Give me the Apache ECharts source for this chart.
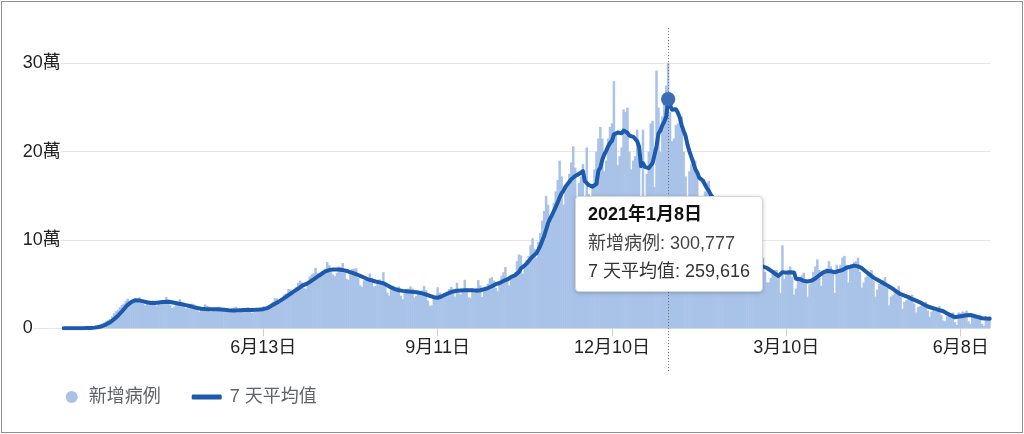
<!DOCTYPE html>
<html>
<head>
<meta charset="utf-8">
<script src="https://cdn.jsdelivr.net/npm/echarts@6/dist/echarts.min.js"></script>
<style>
html,body{margin:0;padding:0;background:#fff;}
#chart{position:absolute;left:0;top:0;width:1024px;height:434px;}
#frame{position:absolute;left:1px;top:1px;width:1020px;height:430px;border:1px solid #8f8f8f;pointer-events:none;}
</style>
</head>
<body>
<div id="chart"></div>
<div id="frame"></div>
<script>
// ---- data (values in thousands of cases) ----
const axisStart = '2020-02-16';
const dataStart = '2020-03-02';
const dataEnd = '2021-06-23';
const tickDates = ['2020-06-13', '2020-09-11', '2020-12-10', '2021-03-10', '2021-06-08'];
const highlightDate = '2021-01-08';
const yTicks = [0, 100, 200, 300];

const dailyCases = [
// 2020-03
0.01,0.02,0.02,0.03,0.04,0.06,0.08, 0.1,0.12,0.2,0.3,0.4,0.5,0.6, 0.8,1.0,1.5,2.2,3.0,4.2,5.5, 6.8,8.4,9.6,10.8,13.5,17.0,19.5, 21.0,24.0,
// 2020-04
26.5,28.0,31.0,33.5,27.5, 29.0,31.0,32.0,33.5,35.0,31.5,28.0, 26.0,27.5,29.0,30.5,31.5,30.0,25.5, 28.0,27.0,30.5,32.0,35.5,33.0,26.5, 23.0,24.5,27.0,29.5,
// 2020-05
33.0,29.0,25.5, 22.5,23.5,24.5,28.0,27.5,25.5,20.5, 18.5,22.0,21.0,27.0,25.5,24.5,18.5, 22.5,21.0,21.5,24.5,23.5,22.0,19.5, 18.5,18.5,19.5,22.5,23.5,24.5,20.0,
// 2020-06
20.5,19.5,20.5,21.5,24.0,22.0,17.5, 18.0,19.0,21.0,23.0,23.5,25.0,20.5, 21.0,25.0,28.0,30.0,34.0,34.0,28.0, 30.5,34.5,38.5,39.5,44.5,44.0,39.0, 39.5,46.5,
// 2020-07
51.5,54.0,52.0,45.5,45.0, 49.0,58.5,61.0,62.5,68.5,63.0,59.0, 60.0,63.5,67.5,75.0,71.5,63.5,61.0, 59.0,63.0,70.0,69.0,74.0,64.5,56.0, 55.0,63.0,67.0,67.5,68.0,
// 2020-08
57.0,48.5, 47.0,54.5,55.5,56.5,62.0,57.5,47.5, 48.0,53.0,55.5,52.0,63.5,51.5,40.5, 37.0,44.5,47.0,44.0,46.5,47.5,37.0, 33.0,40.0,44.5,45.0,47.5,45.0,35.0, 36.5,
// 2020-09
42.0,38.5,43.0,48.0,43.0,31.5, 25.5,26.0,33.5,36.5,46.5,40.5,34.0, 35.0,37.5,40.0,44.5,47.0,40.5,36.0, 51.5,39.5,38.5,44.0,55.0,45.0,35.0, 34.5,43.5,40.0,
// 2020-10
45.5,54.5,48.5,35.5, 42.0,43.0,50.5,56.5,58.0,54.0,46.0, 42.0,52.0,59.5,63.5,69.5,54.5,48.5, 60.0,61.0,63.5,76.0,83.5,82.5,62.0, 70.0,77.0,82.0,94.0,102.0,90.0,
// 2020-11
80, 98,108,122,133,150,140,118, 125,142,155,168,190,172,140, 155,162,175,188,206,182,146, 165,172,186,110,205,152,138, 160,
// 2020-12
180,200,215,228,215,178, 190,215,228,232,280,222,185, 195,205,248,245,250,200,180, 190,195,225,200,95,225,150, 175,200,232,235,
// 2021-01
160,292,250, 200,240,260,275,300.777,245,212, 215,230,232,236,240,200,172, 145,178,186,192,190,172,132, 150,148,155,165,167,142,112,
// 2021-02
122,118,120,123,134,104,90, 88,95,95,104,103,88,64, 54,62,68,76,80,72,56, 58,72,75,77,80,64,52,
// 2021-03
52,57,64,66,66,58,40, 94,56,60,66,70,58,38, 45,54,58,60,63,55,36, 50,56,64,70,78,66,48, 62,62,68,
// 2021-04
76,70,66,40, 72,62,72,80,82,72,52, 68,68,75,76,80,64,46, 52,58,62,64,66,54,36, 44,50,53,55,58,
// 2021-05
46,26, 36,38,42,44,48,36,22, 30,32,36,37,38,28,18, 24,25,28,28,30,20,13, 19,21,23,23,25,15,9, 8,
// 2021-06
14,17,15,18,7,4, 18,17,19,18,20,8,5, 14,13,15,13,15,5,3, 14,12,14
];

const avg7 = [
// 2020-03
0.01,0.01,0.02,0.02,0.03,0.04,0.04, 0.06,0.08,0.1,0.14,0.2,0.26,0.33, 0.44,0.57,0.76,1.0,1.4,1.9,2.6, 3.4,4.5,5.6,6.9,8.4,10.3,12.3, 14.2,16.4,
// 2020-04
19.0,21.6,24.2,26.5,28.3, 30.0,31.0,31.8,32.0,31.6,31.0,30.5, 30.0,29.5,29.0,28.7,28.5,28.6,28.8, 29.2,29.6,29.9,30.0,30.1,30.0,29.7, 29.3,28.9,28.5,28.0,
// 2020-05
27.6,27.2,26.7, 26.2,25.7,25.2,24.6,24.0,23.5,23.0, 22.6,22.2,22.0,21.9,21.8,21.7,21.6, 21.6,21.5,21.5,21.4,21.3,21.1,20.9, 20.7,20.5,20.4,20.2,20.2,20.3,20.4,
// 2020-06
20.5,20.6,20.6,20.7,20.7,20.7,20.8, 20.9,21.0,21.1,21.3,21.5,21.7,22.0, 22.8,24.0,25.3,26.6,27.8,29.0,30.2, 31.6,33.0,34.5,36.0,37.5,39.0,40.5, 42.0,43.5,
// 2020-07
45.0,46.5,48.0,49.0,50.0, 51.0,52.5,54.0,55.5,57.0,58.5,60.0, 61.5,63.0,64.5,65.5,66.0,66.3,66.5, 66.6,66.6,66.5,66.3,66.0,65.6,65.0, 64.3,63.5,62.7,62.0,61.2,
// 2020-08
60.3,59.4, 58.5,57.5,56.5,55.5,54.8,54.2,53.6, 53.0,52.5,52.0,51.5,51.0,50.0,48.8, 47.5,46.3,45.2,44.3,43.5,43.0,42.7, 42.4,42.1,41.9,41.7,41.5,41.3,41.1, 40.8,
// 2020-09
40.5,40.1,39.6,39.0,38.3,37.6, 36.8,35.9,35.2,34.8,34.6,35.0,36.0, 37.2,38.3,39.3,40.2,41.0,41.7,42.2, 42.5,42.7,42.8,42.9,43.0,43.1,43.2, 43.3,43.0,42.8,
// 2020-10
42.6,42.6,43.1,43.1, 44.2,44.1,45.6,47.2,47.7,48.5,50.0, 50.0,51.3,52.6,53.6,55.2,55.3,55.6, 58.2,59.5,60.1,61.9,63.9,67.9,69.8, 71.2,73.5,76.1,78.7,81.4,82.4,
// 2020-11
85.0, 89.0,93.4,99.1,104.7,111.6,118.7,124.1, 128.0,132.9,137.6,142.6,148.3,152.9,156.0, 160.3,163.1,166.0,168.9,171.1,172.6,173.4, 174.9,176.3,177.9,166.7,166.6,162.3,161.1, 160.4,
// 2020-12
161.6,163.6,178.6,181.9,190.9,196.6, 200.9,205.9,209.9,212.3,219.7,220.7,221.7, 222.4,221.0,223.9,225.7,221.4,218.3,217.6, 216.9,215.4,212.0,205.7,183.6,187.0,182.9, 180.7,181.4,182.4,187.4,
// 2021-01
196.7,206.3,220.6, 224.1,229.9,233.9,239.6,259.616,252.9,247.5, 249.6,248.2,244.2,238.6,229.9,223.5,217.8, 207.8,200.4,193.8,187.5,180.4,176.4,170.7, 171.4,167.1,162.7,158.9,155.6,151.3,148.4,
// 2021-02
144.4,140.1,135.1,129.1,124.4,119.0,115.9, 111.0,107.7,104.1,101.4,97.0,94.7,91.0, 86.1,81.4,77.6,73.6,70.3,68.0,66.9, 67.4,68.9,69.9,70.0,70.0,68.9,68.3,
// 2021-03
67.4,65.3,63.7,62.1,60.1,59.3,57.6, 63.6,63.4,62.9,62.9,63.4,63.4,63.1, 56.1,55.9,55.6,54.7,53.7,53.3,53.0, 53.7,54.0,54.9,56.3,58.4,60.0,61.7, 63.4,64.3,64.9,
// 2021-04
65.7,64.6,64.6,63.4, 64.9,64.9,65.4,66.0,67.7,68.6,70.3, 69.7,70.6,71.0,70.4,70.1,69.0,68.1, 65.9,64.4,62.6,60.9,58.9,57.4,56.0, 54.9,53.7,52.4,51.1,50.0,
// 2021-05
48.9,47.4, 46.3,44.6,43.0,41.4,40.0,38.6,38.0, 37.1,36.3,35.4,34.4,33.0,31.9,31.3, 30.4,29.4,28.3,27.0,25.9,24.7,24.0, 23.3,22.7,22.0,21.3,20.6,19.9,19.3, 17.7,
// 2021-06
16.7,15.9,14.7,13.7,12.6,11.9, 13.3,13.7,14.0,14.4,14.7,14.9,15.0, 14.4,13.9,13.3,12.6,11.9,11.4,11.1, 11.1,11.0,10.9
];

// ---- build ----
const FONT = '"Liberation Sans", Arial, "Noto Sans CJK TC", "Noto Sans CJK SC", sans-serif';
const BAR = '#a9c3e8';
const LINE = '#1d5aab';
const DOT = '#3b6cb5';

function ymd(t) {
  const d = new Date(t);
  return d.getUTCFullYear() + '-' + String(d.getUTCMonth() + 1).padStart(2, '0') + '-' + String(d.getUTCDate()).padStart(2, '0');
}
const dates = [];
for (let t = Date.parse(axisStart + 'T00:00:00Z'); t <= Date.parse(dataEnd + 'T00:00:00Z'); t += 86400000) dates.push(ymd(t));
const offset = dates.indexOf(dataStart);
if (dates.length - offset !== dailyCases.length || dailyCases.length !== avg7.length) {
  console.error('length mismatch', dates.length - offset, dailyCases.length, avg7.length);
}
const hlIndex = dates.indexOf(highlightDate);
const tickSet = new Set(tickDates);

const barData = dates.map((d, i) => i < offset ? '-' : dailyCases[i - offset]);
const lineData = dates.map((d, i) => {
  if (i < offset) return '-';
  const v = avg7[i - offset];
  return i === hlIndex ? { value: v, symbol: 'circle', symbolSize: 13, itemStyle: { color: DOT } } : v;
});

function mdLabel(v) { const p = v.split('-'); return (+p[1]) + '月' + (+p[2]) + '日'; }
function fullLabel(v) { const p = v.split('-'); return p[0] + '年' + (+p[1]) + '月' + (+p[2]) + '日'; }
function fmtNum(v) { return Math.round(v * 1000).toLocaleString('en-US'); }

const chart = echarts.init(document.getElementById('chart'), null, { renderer: 'canvas' });
chart.setOption({
  animation: false,
  grid: { left: 33.7, right: 33.3, top: 28.1, bottom: 105.7, containLabel: false, outerBoundsMode: 'none' },
  xAxis: {
    type: 'category',
    data: dates,
    boundaryGap: true,
    axisLine: { show: false },
    axisTick: { show: true, alignWithLabel: true, length: 8, interval: (i, v) => tickSet.has(v), lineStyle: { color: '#cfcfcf' } },
    axisLabel: { interval: (i, v) => tickSet.has(v), formatter: mdLabel, color: '#222', fontSize: 18, fontFamily: FONT, margin: 11 },
    splitLine: { show: false }
  },
  yAxis: {
    type: 'value', min: 0, max: 340, interval: 100,
    axisLine: { show: false }, axisTick: { show: false },
    axisLabel: {
      formatter: v => yTicks.indexOf(v) < 0 ? '' : (v === 0 ? '0' : (v / 10) + '萬'),
      align: 'left', margin: 11, color: '#222', fontSize: 18, fontFamily: FONT,
      backgroundColor: '#fff', showMaxLabel: false
    },
    splitLine: { show: true, showMaxLine: false, lineStyle: { color: '#e6e6e6', width: 1 } }
  },
  legend: [
    { data: [{ name: '新增病例', icon: 'circle' }], left: 65.7, top: 388, padding: 0, itemWidth: 12, itemHeight: 12, selectedMode: false,
      textStyle: { fontSize: 18, color: '#5f6368', fontFamily: FONT, padding: [0, 0, 0, 6] } },
    { data: [{ name: '7 天平均值', icon: 'roundRect' }], left: 191.7, top: 388, padding: 0, itemWidth: 30, itemHeight: 5, selectedMode: false,
      textStyle: { fontSize: 18, color: '#5f6368', fontFamily: FONT, padding: [0, 0, 0, 3] } }
  ],
  tooltip: {
    trigger: 'axis', triggerOn: 'none', alwaysShowContent: true, showContent: true,
    axisPointer: { type: 'none' },
    position: [575, 196], transitionDuration: 0,
    backgroundColor: '#fff', borderColor: '#d6d6d6', borderWidth: 1, padding: [3, 12, 5, 12],
    extraCssText: 'box-shadow:0 1px 4px rgba(0,0,0,0.22);border-radius:4px;',
    textStyle: { fontSize: 18, fontFamily: FONT, color: '#333' },
    formatter: params => {
      const i = params[0].dataIndex;
      const k = i - offset;
      return '<div style="line-height:28.7px;font-weight:bold;color:#111">' + fullLabel(dates[i]) + '</div>' +
        '<div style="line-height:28.7px;color:#444">新增病例: ' + fmtNum(dailyCases[k]) + '</div>' +
        '<div style="line-height:28.7px;color:#333">7 天平均值: ' + fmtNum(avg7[k]) + '</div>';
    }
  },
  series: [
    { type: 'bar', name: '新增病例', data: barData, color: BAR, itemStyle: { color: BAR },
      barWidth: 2.5, emphasis: { disabled: true }, z: 2 },
    { type: 'line', name: '7 天平均值', data: lineData, color: LINE, symbol: 'none', showSymbol: true, showAllSymbol: true,
      lineStyle: { width: 4, color: LINE, cap: 'round', join: 'round' }, itemStyle: { color: LINE },
      emphasis: { disabled: true }, z: 4 }
  ]
});

const px = chart.convertToPixel({ xAxisIndex: 0 }, highlightDate);
const yTop = chart.convertToPixel({ yAxisIndex: 0 }, 340);
const yZero = chart.convertToPixel({ yAxisIndex: 0 }, 0);
const xr = Math.round(px) + 0.5;
chart.setOption({
  graphic: [{ type: 'line', silent: true, z: 3,
    shape: { x1: xr, y1: yTop, x2: xr, y2: yZero + 44 },
    style: { stroke: '#707070', lineWidth: 1, lineDash: [1, 2] } }]
});
chart.dispatchAction({ type: 'showTip', seriesIndex: 1, dataIndex: hlIndex });
</script>
</body>
</html>
